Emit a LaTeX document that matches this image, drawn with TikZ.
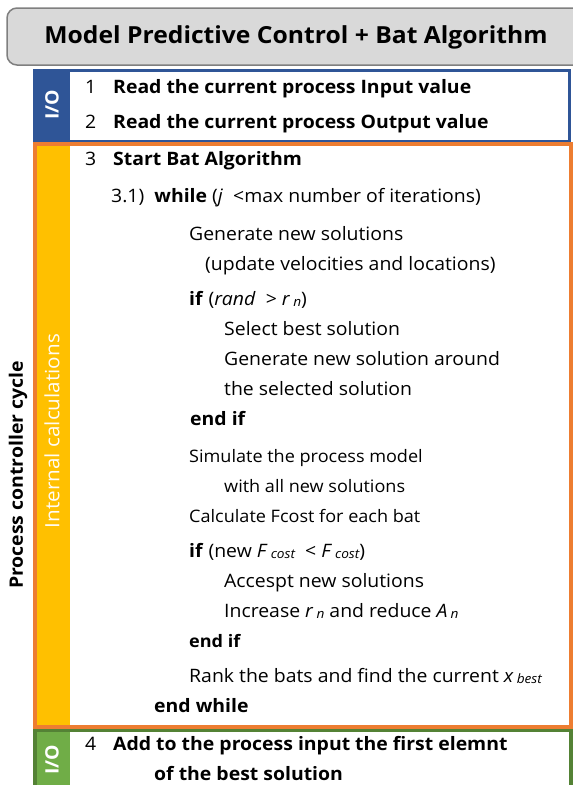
\documentclass[tikz,border=0pt]{standalone}
\usepackage{fontspec}
\setmainfont{Open Sans}[FakeStretch=1.05]

\definecolor{titlegray}{HTML}{D9D9D9}
\definecolor{titleedge}{HTML}{7F7F7F}
\definecolor{ioblue}{HTML}{2F5597}
\definecolor{calcorange}{HTML}{ED7D31}
\definecolor{calcyellow}{HTML}{FFC000}
\definecolor{iogreen}{HTML}{548235}
\definecolor{iogreenfill}{HTML}{70AD47}

\newcommand{\lowidx}[1]{\raisebox{-0.15ex}{\fontsize{13}{13}\selectfont\itshape #1}}

\tikzset{
  txt/.style = {anchor = base west, inner sep = 0pt, font = \fontsize{18.5}{20}\selectfont},
  smalltxt/.style = {txt, font = \fontsize{17.2}{19}\selectfont},
  btxt/.style = {txt, font = \fontsize{18.5}{20}\selectfont\bfseries},
  sidelabel/.style = {rotate = 90, inner sep = 0pt, text = white, font = \fontsize{18.5}{20}\selectfont}
}

\begin{document}
\begin{tikzpicture}[x = 1pt, y = -1pt]
  \useasboundingbox (0,0) rectangle (573,785);
  \clip (0,0) rectangle (573,785);

  % title bar
  \draw [fill = titlegray, draw = titleedge, line width = 1.5pt, rounded corners = 10pt]
    (7,8) rectangle (620,65);
  \node (title) at (296,37) {\fontsize{23.5}{26}\selectfont\bfseries Model Predictive Control + Bat Algorithm};

  % coloured blocks
  \fill [ioblue] (33,69) rectangle (70,143);
  \draw [ioblue, line width = 3pt] (34.5,70.5) rectangle (569.5,141);
  \fill [calcyellow] (37,144) rectangle (70,727);
  \draw [calcorange, line width = 3.5pt] (35,144) rectangle (571,727);
  \fill [iogreenfill] (37,730) rectangle (70,800);
  \draw [iogreen, line width = 3.5pt] (35,730.5) rectangle (571,820);

  % side labels
  \node [sidelabel, font = \fontsize{18.5}{20}\selectfont\bfseries] (ioA) at (52,105) {I/O};
  \node [sidelabel, text = white!96!calcyellow, font = \fontsize{19.7}{22}\selectfont] (calc) at (52,431) {Internal calculations};
  \node [sidelabel, font = \fontsize{18.5}{20}\selectfont\bfseries] (ioB) at (52,760) {I/O};
  \node [sidelabel, text = black, font = \fontsize{18.5}{20}\selectfont\bfseries] (cycle) at (18,475) {Process controller cycle};

  % input/output steps
  \node [txt]  (numA)  at (85,93)  {1};
  \node [btxt] (readIn)  at (113,93)  {Read the current process Input value};
  \node [txt]  (numB)  at (85,128) {2};
  \node [btxt] (readOut) at (113,128) {Read the current process Output value};

  % bat algorithm
  \node [txt]  (numC)  at (85,165) {3};
  \node [btxt] (start) at (113,165) {Start Bat Algorithm};
  \node [txt]  (loop)  at (111,202) {3.1)\ \ \textbf{while} (\textit{j}\ \ <max number of iterations)};
  \node [txt]  (gen)   at (189,240) {Generate new solutions};
  \node [txt]  (upd)   at (205,270) {(update velocities and locations)};
  \node [txt]  (ifA)   at (189,305) {\textbf{if} (\textit{rand}\ \ > \textit{r}\,\lowidx{n})};
  \node [txt]  (sel)   at (224,335) {Select best solution};
  \node [txt]  (genB)  at (224,365) {Generate new solution around};
  \node [txt]  (genC)  at (224,395) {the selected solution};
  \node [btxt] (endA)  at (190,425) {end if};
  \node [smalltxt] (sim)  at (189,462) {Simulate the process model};
  \node [smalltxt] (simB) at (224,492) {with all new solutions};
  \node [smalltxt] (cost) at (189,522) {Calculate Fcost for each bat};
  \node [txt]  (ifB)   at (189,557) {\textbf{if} (new \textit{F}\,\lowidx{cost}\ \ < \textit{F}\,\lowidx{cost})};
  \node [txt]  (acc)   at (224,587) {Accespt new solutions};
  \node [txt]  (inc)   at (224,617) {Increase \textit{r}\,\lowidx{n}\ and reduce \textit{A}\,\lowidx{n}};
  \node [smalltxt, font = \fontsize{17.2}{19}\selectfont\bfseries] (endB) at (189,647) {end if};
  \node [txt]  (rank)  at (189,682) {Rank the bats and find the current \textit{x}\,\lowidx{best}};
  \node [btxt] (endC)  at (154,712) {end while};

  % output step
  \node [txt]  (numD)  at (85,750) {4};
  \node [btxt] (add)   at (113,750) {Add to the process input the first elemnt};
  \node [btxt] (addB)  at (154,780) {of the best solution};
\end{tikzpicture}
\end{document}
